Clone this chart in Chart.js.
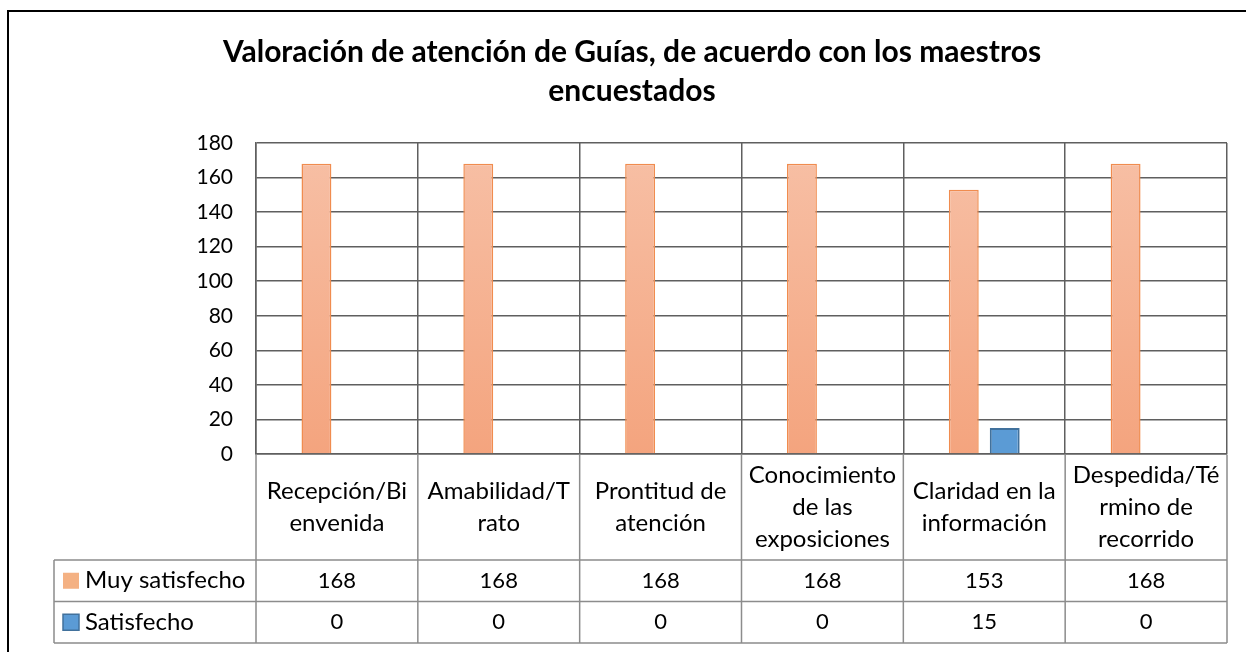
<!DOCTYPE html>
<html>
<head>
<meta charset="utf-8">
<script src="https://cdn.jsdelivr.net/npm/chart.js@4"></script>
<style>
    body { margin: 0; background: #fff; overflow: hidden; }
    #frame { position: absolute; left: 7px; top: 10px; width: 1260px; height: 700px; border: 2px solid #000; pointer-events: none; }
    #chart { position: absolute; left: 0; top: 0; }
</style>
</head>
<body>
<canvas id="chart" width="1246" height="652"></canvas>
<div id="frame"></div>
<script>
// data
const categories = [
    ["Recepción/Bi", "envenida"],
    ["Amabilidad/T", "rato"],
    ["Prontitud de", "atención"],
    ["Conocimiento", "de las", "exposiciones"],
    ["Claridad en la", "información"],
    ["Despedida/Té", "rmino de", "recorrido"]
];
const seriesNames = ["Muy satisfecho", "Satisfecho"];
const muySatisfecho = [168, 168, 168, 168, 153, 168];
const satisfecho = [0, 0, 0, 0, 15, 0];
const yMin = 0, yMax = 180, yStep = 20;
const titleLines = ["Valoración de atención de Guías, de acuerdo con los maestros", "encuestados"];

const FONT = "Lato, Carlito, 'Open Sans', sans-serif";
const gridDark = "#5f5f5f";
const gridLight = "#8c8c8c";

const labelCellH = 106;
const rowH = 41.5;
const tableLeft = 54;

// data table under the plot, like Excel's
const dataTable = {
    id: "dataTable",
    afterDraw(chart) {
        const ctx = chart.ctx;
        const area = chart.chartArea;
        const x = chart.scales.x;
        const colW = (area.right - area.left) / categories.length;
        const top = area.bottom;
        const r1 = top + labelCellH;
        const r2 = r1 + rowH;
        const r3 = r2 + rowH;
        ctx.save();
        ctx.strokeStyle = gridLight;
        ctx.lineWidth = 1.5;
        ctx.beginPath();
        for (let i = 0; i <= categories.length; i++) {
            const px = area.left + colW * i;
            ctx.moveTo(px, top + 1);
            ctx.lineTo(px, r3);
        }
        ctx.moveTo(tableLeft, r1); ctx.lineTo(area.right, r1);
        ctx.moveTo(tableLeft, r2); ctx.lineTo(area.right, r2);
        ctx.moveTo(tableLeft, r3); ctx.lineTo(area.right, r3);
        ctx.moveTo(tableLeft, r1); ctx.lineTo(tableLeft, r3);
        ctx.stroke();

        const rows = [
            { name: seriesNames[0], vals: muySatisfecho, fill: "#F4B183", stroke: null },
            { name: seriesNames[1], vals: satisfecho, fill: "#5B9BD5", stroke: "#41719C" }
        ];
        ctx.textBaseline = "middle";
        rows.forEach((row, k) => {
            const cy = r1 + rowH * k + rowH / 2;
            ctx.fillStyle = row.fill;
            ctx.fillRect(63, cy - 8, 16, 16);
            if (row.stroke) {
                ctx.strokeStyle = row.stroke;
                ctx.lineWidth = 1.5;
                ctx.strokeRect(63, cy - 8, 16, 16);
            }
            ctx.fillStyle = "#000";
            ctx.textAlign = "left";
            ctx.font = "24px " + FONT;
            ctx.fillText(row.name, 85, cy);
            ctx.textAlign = "center";
            ctx.font = "22px " + FONT;
            row.vals.forEach((v, i) => {
                ctx.fillText(String(v), x.getPixelForValue(i), cy);
            });
        });
        ctx.restore();
    }
};

const ctx = document.getElementById("chart").getContext("2d");

function orangeFill(context) {
    const area = context.chart.chartArea;
    if (!area) return "#F5B090";
    const g = context.chart.ctx.createLinearGradient(0, area.top, 0, area.bottom);
    g.addColorStop(0, "#F7C0A6");
    g.addColorStop(1, "#F4A47E");
    return g;
}

new Chart(ctx, {
    type: "bar",
    data: {
        labels: categories,
        datasets: [
            {
                label: seriesNames[0],
                data: muySatisfecho,
                backgroundColor: orangeFill,
                borderColor: "#F08C4F",
                borderWidth: 1.5,
                categoryPercentage: 0.506,
                barPercentage: 0.73
            },
            {
                label: seriesNames[1],
                data: satisfecho,
                backgroundColor: "#5B9BD5",
                borderColor: "#41719C",
                borderWidth: 2,
                categoryPercentage: 0.506,
                barPercentage: 0.73
            }
        ]
    },
    options: {
        responsive: false,
        animation: false,
        layout: { padding: { left: 37, right: 19, top: 0, bottom: 8 } },
        plugins: {
            legend: { display: false },
            tooltip: { enabled: false },
            title: {
                display: true,
                text: titleLines,
                color: "#000",
                font: { family: FONT, size: 30, weight: "bold", lineHeight: 1.3 },
                padding: { top: 33, bottom: 32 }
            }
        },
        scales: {
            x: {
                grid: { color: gridDark, lineWidth: 1.5, drawTicks: false, offset: true },
                border: { color: gridDark, width: 1.5 },
                ticks: {
                    color: "#000",
                    font: { family: FONT, size: 24, lineHeight: 1.34 },
                    padding: 21,
                    crossAlign: "center",
                    maxRotation: 0,
                    autoSkip: false
                },
                afterFit(scale) { scale.height = labelCellH + rowH * 2 + 1; }
            },
            y: {
                min: yMin,
                max: yMax,
                grid: { color: gridDark, lineWidth: 1.5, drawTicks: false },
                border: { color: gridDark, width: 1.5 },
                ticks: {
                    stepSize: yStep,
                    color: "#000",
                    font: { family: FONT, size: 21 },
                    padding: 23
                },
                afterFit(scale) { scale.width = 219; }
            }
        }
    },
    plugins: [dataTable]
});
</script>
</body>
</html>
